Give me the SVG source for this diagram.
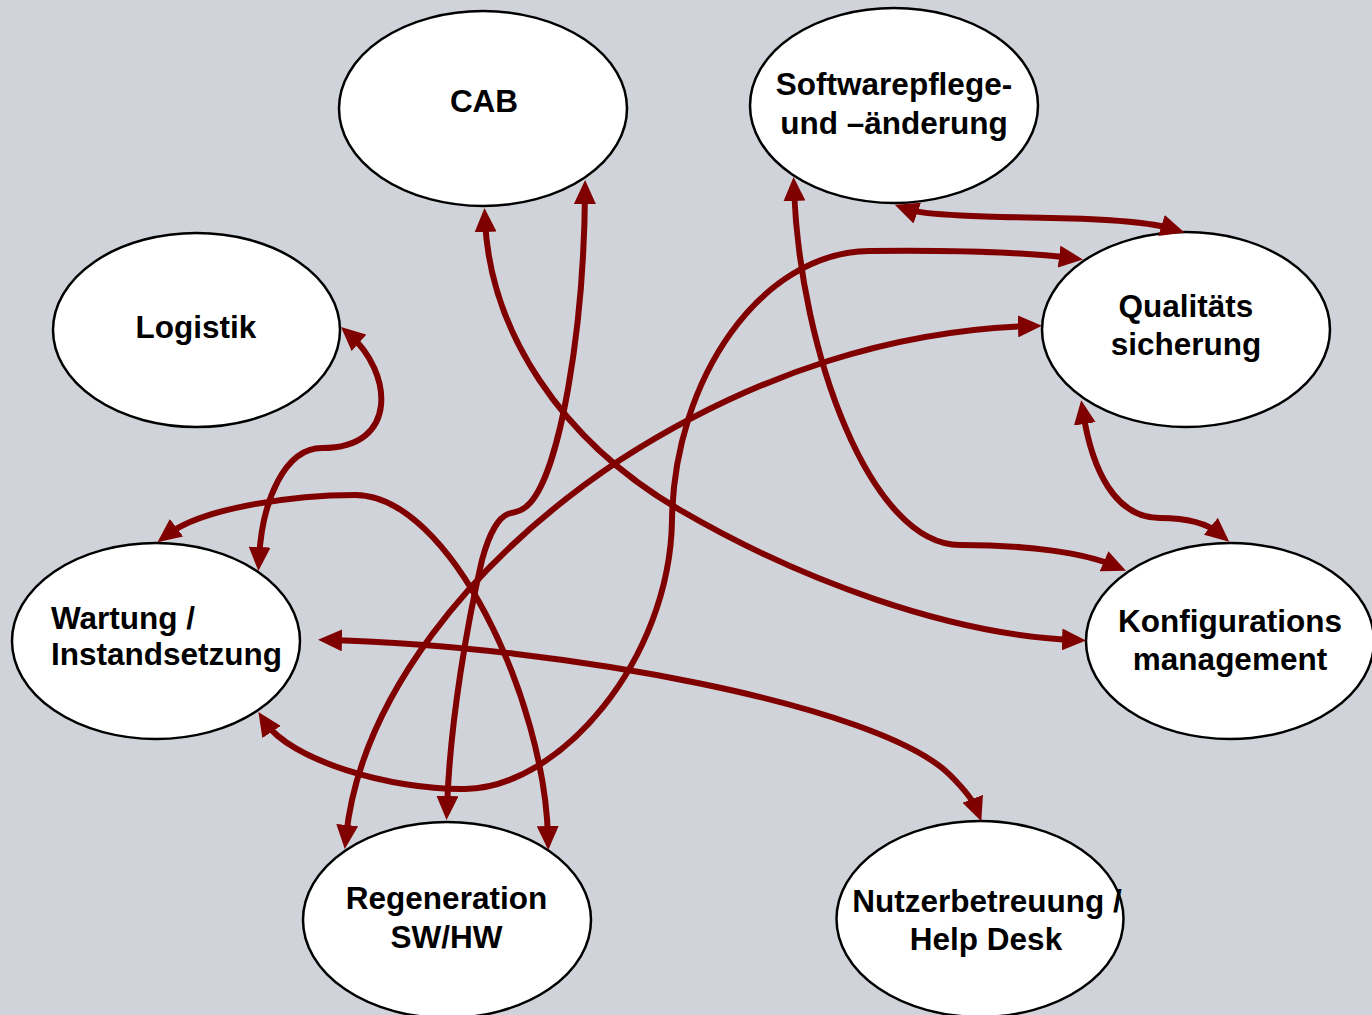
<svg xmlns="http://www.w3.org/2000/svg" width="1372" height="1015" viewBox="0 0 1372 1015">
<style>
.bg{fill:#D0D3DA}
.node ellipse{fill:#FFFFFF;stroke:#000000;stroke-width:2.5}
.node text{font-family:"Liberation Sans",Arial,Helvetica,sans-serif;font-weight:bold;font-size:31.5px;fill:#000000}
.c{text-anchor:middle}
.edge{fill:none;stroke:#800000;stroke-width:6;marker-start:url(#ah);marker-end:url(#ah)}
</style>
<defs>
<marker id="ah" viewBox="0 0 24 22" refX="12" refY="11" markerWidth="24" markerHeight="22" markerUnits="userSpaceOnUse" orient="auto-start-reverse">
<path d="M0,0 L24,11 L0,22 Z" fill="#800000"/>
</marker>
</defs>
<rect class="bg" x="0" y="0" width="1372" height="1015"/>

<g id="node-cab" class="node">
<ellipse cx="483" cy="108.5" rx="144" ry="97.5"/>
<text class="c" x="484" y="112">CAB</text>
</g>
<g id="node-software" class="node">
<ellipse cx="894" cy="105.5" rx="144" ry="97.5"/>
<text class="c" x="894" y="95">Softwarepflege-</text>
<text class="c" x="894" y="134">und –änderung</text>
</g>
<g id="node-logistik" class="node">
<ellipse cx="196.5" cy="330" rx="143.5" ry="97"/>
<text class="c" x="196" y="338">Logistik</text>
</g>
<g id="node-qualitaet" class="node">
<ellipse cx="1186" cy="329.5" rx="144" ry="97.5"/>
<text class="c" x="1186" y="317">Qualitäts</text>
<text class="c" x="1186" y="355">sicherung</text>
</g>
<g id="node-wartung" class="node">
<ellipse cx="156" cy="641" rx="144" ry="98"/>
<text x="51" y="629">Wartung /</text>
<text x="51" y="665">Instandsetzung</text>
</g>
<g id="node-konfig" class="node">
<ellipse cx="1230" cy="641" rx="144" ry="98"/>
<text class="c" x="1230" y="632">Konfigurations</text>
<text class="c" x="1230" y="670">management</text>
</g>
<g id="node-regeneration" class="node">
<ellipse cx="447" cy="920" rx="144" ry="98"/>
<text class="c" x="446.5" y="909">Regeneration</text>
<text class="c" x="446.5" y="948">SW/HW</text>
</g>
<g id="node-nutzer" class="node">
<ellipse cx="980" cy="919" rx="143.5" ry="98"/>
<text class="c" x="987" y="912">Nutzerbetreuung /</text>
<text class="c" x="986" y="950">Help Desk</text>
</g>

<g id="connectors">
<path class="edge" d="M350,335 C392,372 400,448 322,448 C285,448 262,500 259,559"/>
<path class="edge" d="M167,535 C205,506 300,495 355,495 C450,495 545,700 548,838"/>
<path class="edge" d="M330,640 C560,646 880,705 950,775 Q972,797 977,810"/>
<path class="edge" d="M265,722 C290,760 390,790 465,789 C560,788 670,660 672,520 C674,380 760,252 870,251 C960,250 1030,253 1071,258"/>
<path class="edge" d="M346,837 C360,700 470,560 620,460 C760,370 900,330 1030,326"/>
<path class="edge" d="M585,192 C584,330 560,470 530,503 C522,512 514,512 508,514 C500,517 490,530 482,560 C468,620 450,720 447,808"/>
<path class="edge" d="M485,220 C490,330 560,440 680,510 C800,580 950,635 1074,640"/>
<path class="edge" d="M794,189 C800,350 870,545 960,545 C1030,545 1085,553 1115,566"/>
<path class="edge" d="M906,209 C925,216 1000,217 1050,218 C1110,219 1150,222 1173,229"/>
<path class="edge" d="M1083,412 C1092,470 1115,518 1160,518 C1190,518 1208,524 1220,534"/>
</g>
</svg>
